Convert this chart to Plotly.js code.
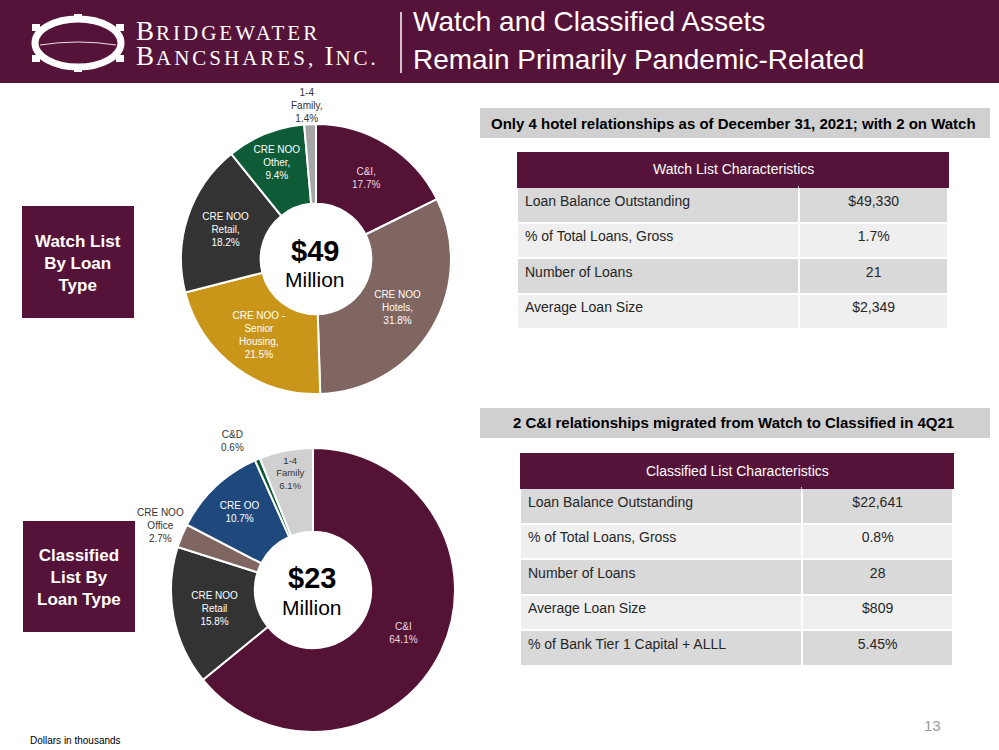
<!DOCTYPE html>
<html><head><meta charset="utf-8">
<script src="https://cdn.plot.ly/plotly-3.0.1.min.js"></script>
<style>html,body{margin:0;padding:0;background:#fff;}#chart{width:999px;height:750px;}</style>
</head><body><div id="chart"></div>
<script>
// ---------- DATA ----------
const watchLabels = ['C&I', 'CRE NOO Hotels', 'CRE NOO - Senior Housing', 'CRE NOO Retail', 'CRE NOO Other', '1-4 Family'];
const watchText   = ['C&I,', 'CRE NOO<br>Hotels,', 'CRE NOO -<br>Senior<br>Housing,', 'CRE NOO<br>Retail,', 'CRE NOO<br>Other,', '1-4<br>Family,'];
const watchPct    = [17.7, 31.8, 21.5, 18.2, 9.4, 1.4];
const watchColors = ['#541235', '#7f6661', '#c9961a', '#333333', '#0d5b37', '#a6a6a6'];

const classLabels = ['C&I', 'CRE NOO Retail', 'CRE NOO Office', 'CRE OO', 'C&D', '1-4 Family'];
const classText   = ['C&I', 'CRE NOO<br>Retail', 'CRE NOO<br>Office', 'CRE OO', 'C&D', '1-4<br>Family'];
const classPct    = [64.1, 15.8, 2.7, 10.7, 0.6, 6.1];
const classColors = ['#541235', '#333333', '#7f6661', '#1f497d', '#0d5b37', '#d0d0d0'];

const watchTotal = '$49';
const classTotal = '$23';

const watchRows = ['Loan Balance Outstanding', '% of Total Loans, Gross', 'Number of Loans', 'Average Loan Size'];
const watchVals = ['$49,330', '1.7%', '21', '$2,349'];
const classRows = ['Loan Balance Outstanding', '% of Total Loans, Gross', 'Number of Loans', 'Average Loan Size', '% of Bank Tier 1 Capital + ALLL'];
const classVals = ['$22,641', '0.8%', '28', '$809', '5.45%'];

// ---------- HELPERS ----------
const W = 999, H = 750;
const X = p => p / W, Y = p => 1 - p / H;
const MAROON = '#561339';
const SANS = '"Liberation Sans", Arial, sans-serif';
const SERIF = '"Liberation Serif", "DejaVu Serif", serif';

function ann(text, x, y, opts) {
  return Object.assign({text: text, x: X(x), y: Y(y), xref: 'paper', yref: 'paper',
    showarrow: false, xanchor: 'center', yanchor: 'middle'}, opts || {});
}
function rect(x0, y0, x1, y1, fill, extra) {
  return Object.assign({type: 'rect', xref: 'paper', yref: 'paper', x0: X(x0), x1: X(x1), y0: Y(y1), y1: Y(y0),
    fillcolor: fill, line: {width: 0}, layer: 'below'}, extra || {});
}
function alt(n) { const a = []; for (let i = 0; i < n; i++) a.push(i % 2 ? '#efefef' : '#d9d9d9'); return a; }

const pieFont = {family: SANS, size: 10};
const pct = v => v.toFixed(1) + '%';

const traces = [
  {
    type: 'pie', labels: watchLabels, values: watchPct, text: watchText,
    texttemplate: '%{text}<br>%{value:.1f}%', sort: false, direction: 'clockwise', rotation: 0,
    hole: 0.41, marker: {colors: watchColors, line: {color: '#ffffff', width: 2}},
    textposition: ['inside', 'inside', 'inside', 'inside', 'inside', 'none'],
    insidetextorientation: 'horizontal',
    insidetextfont: Object.assign({}, pieFont, {color: ['#ecd9e2', '#ffffff', '#ffffff', '#ffffff', '#ffffff', '#ffffff']}),
    domain: {x: [X(181), X(451)], y: [Y(394), Y(124)]},
    showlegend: false, hoverinfo: 'none'
  },
  {
    type: 'pie', labels: classLabels, values: classPct, text: classText,
    texttemplate: '%{text}<br>%{value:.1f}%', sort: false, direction: 'clockwise', rotation: 0,
    hole: 0.41, marker: {colors: classColors, line: {color: '#ffffff', width: 2}},
    textposition: ['inside', 'inside', 'none', 'inside', 'none', 'inside'],
    insidetextorientation: 'horizontal',
    insidetextfont: Object.assign({}, pieFont, {color: ['#ecd9e2', '#ffffff', '#ffffff', '#ffffff', '#ffffff', '#333333']}),
    domain: {x: [X(171), X(455)], y: [Y(732), Y(448)]},
    showlegend: false, hoverinfo: 'none'
  },
  {
    type: 'table', domain: {x: [X(517), X(948)], y: [Y(333), Y(152)]},
    columnwidth: [281, 148],
    header: {values: ['', ''], height: 35, fill: {color: MAROON}, line: {color: MAROON, width: 1}},
    cells: {values: [watchRows, watchVals], height: 35.5, align: ['left', 'center'],
      fill: {color: [alt(watchRows.length), alt(watchRows.length)]},
      line: {color: '#ffffff', width: 2}, font: {family: SANS, size: 14, color: '#262626'}}
  },
  {
    type: 'table', domain: {x: [X(520), X(953)], y: [Y(670), Y(453)]},
    columnwidth: [281, 150],
    header: {values: ['', ''], height: 35, fill: {color: MAROON}, line: {color: MAROON, width: 1}},
    cells: {values: [classRows, classVals], height: 35.5, align: ['left', 'center'],
      fill: {color: [alt(classRows.length), alt(classRows.length)]},
      line: {color: '#ffffff', width: 2}, font: {family: SANS, size: 14, color: '#262626'}}
  }
];

const shapes = [
  rect(0, 0, 999, 83, MAROON),
  {type: 'line', xref: 'paper', yref: 'paper', x0: X(401), x1: X(401), y0: Y(12), y1: Y(73), line: {color: '#ffffff', width: 1.5}},
  // logo emblem
  {type: 'circle', xref: 'paper', yref: 'paper', x0: X(35), x1: X(121), y0: Y(67), y1: Y(19), line: {color: '#ffffff', width: 7}, fillcolor: 'rgba(0,0,0,0)'},
  {type: 'path', xref: 'paper', yref: 'paper', path: `M ${X(40)} ${Y(45)} Q ${X(78)} ${Y(39)} ${X(116)} ${Y(45)}`, line: {color: '#e8dde2', width: 1.2}},
  rect(74, 14, 82, 22, '#ffffff', {layer: 'above'}),
  rect(74, 64, 82, 72, '#ffffff', {layer: 'above'}),
  rect(32, 24, 40, 31, '#ffffff', {layer: 'above'}),
  rect(32, 55, 40, 62, '#ffffff', {layer: 'above'}),
  rect(116, 24, 124, 31, '#ffffff', {layer: 'above'}),
  rect(116, 55, 124, 62, '#ffffff', {layer: 'above'}),
  // banners
  rect(480, 108, 990, 138, '#d0d0d0'),
  rect(480, 408, 990, 438, '#d0d0d0'),
  // side boxes
  rect(22, 206, 134, 318, MAROON),
  rect(23, 521, 135, 632, MAROON)
];

const big = s => `<span style="font-size:27px;letter-spacing:2px">${s}</span>`;
const sm = s => `<span style="font-size:21px;letter-spacing:3px">${s}</span>`;
const logoFont = {family: SERIF, size: 19.5, color: '#ffffff'};
const annotations = [
  ann(big('B') + sm('RIDGEWATER') + '<br>' + big('B') + sm('ANCSHARES, ') + big('I') + sm('NC.'), 134, 44, {xanchor: 'left', align: 'left', font: logoFont}),
  ann('Watch and Classified Assets', 411, 22, {xanchor: 'left', font: {family: SANS, size: 28, color: '#ffffff'}}),
  ann('Remain Primarily Pandemic-Related', 411, 59, {xanchor: 'left', font: {family: SANS, size: 28, color: '#ffffff'}}),
  ann('<b>Only 4 hotel relationships as of December 31, 2021; with 2 on Watch</b>', 733, 123, {font: {family: SANS, size: 15, color: '#000000'}}),
  ann('<b>2 C&I relationships migrated from Watch to Classified in 4Q21</b>', 733, 423, {font: {family: SANS, size: 15, color: '#000000'}}),
  ann('<b>Watch List<br>By Loan<br>Type</b>', 78, 263, {font: {family: SANS, size: 17, color: '#ffffff'}}),
  ann('<b>Classified<br>List By<br>Loan Type</b>', 79, 577, {font: {family: SANS, size: 17, color: '#ffffff'}}),
  ann('<b>' + watchTotal + '</b>', 315, 251, {font: {family: SANS, size: 29, color: '#000000'}}),
  ann('Million', 315, 280, {font: {family: SANS, size: 21, color: '#000000'}}),
  ann('<b>' + classTotal + '</b>', 312, 578, {font: {family: SANS, size: 29, color: '#000000'}}),
  ann('Million', 312, 607, {font: {family: SANS, size: 21, color: '#000000'}}),
  ann(watchText[5] + '<br>' + pct(watchPct[5]), 306, 105, {font: {family: SANS, size: 10, color: '#333333'}}),
  ann(classText[2] + '<br>' + pct(classPct[2]), 160, 525, {font: {family: SANS, size: 10, color: '#333333'}}),
  ann(classText[4] + '<br>' + pct(classPct[4]), 232, 441, {font: {family: SANS, size: 10, color: '#333333'}}),
  ann('Watch List Characteristics', 733, 169, {font: {family: SANS, size: 14, color: '#ffffff'}}),
  ann('Classified List Characteristics', 737, 471, {font: {family: SANS, size: 14, color: '#ffffff'}}),
  ann('Dollars in thousands', 28, 740, {xanchor: 'left', font: {family: SANS, size: 10, color: '#000000'}}),
  ann('13', 932, 725, {font: {family: SANS, size: 15, color: '#9a9a9a'}})
];

const layout = {
  width: W, height: H, margin: {l: 0, r: 0, t: 0, b: 0},
  paper_bgcolor: '#ffffff', plot_bgcolor: '#ffffff', showlegend: false,
  shapes: shapes, annotations: annotations
};
Plotly.newPlot('chart', traces, layout, {staticPlot: true, displayModeBar: false});
</script></body></html>
